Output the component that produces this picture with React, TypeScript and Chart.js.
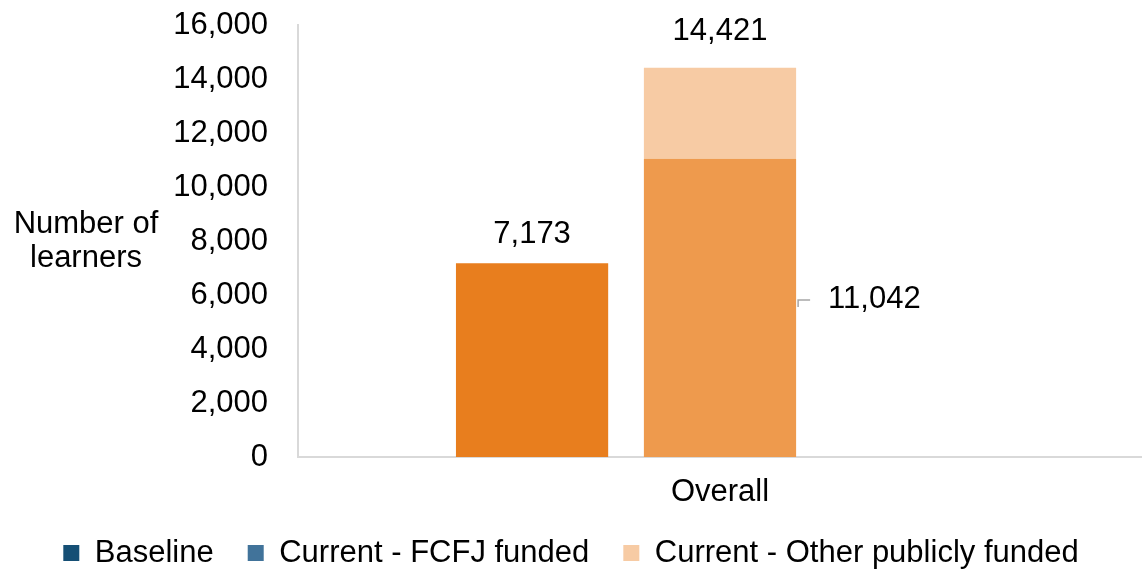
import React, { useEffect, useRef } from "react";
import { Chart, registerables } from "chart.js";

Chart.register(...registerables);

const categories = ["Overall"];
const baseline = [7173];
const fcfjFunded = [11042];
const otherPublic = [3379];
const yTicks = [0, 2000, 4000, 6000, 8000, 10000, 12000, 14000, 16000];
const legendLabels = ["Baseline", "Current - FCFJ funded", "Current - Other publicly funded"];
const legendColors = ["#154F75", "#41739A", "#F7CBA4"];
const yTitle = ["Number of", "learners"];

const FONT = '"Liberation Sans", Arial, sans-serif';
const FS = 31;
const fmt = (v: number) => v.toLocaleString("en-US");

const labelPlugin = {
  id: "customLabels",
  afterDatasetsDraw(chart: any) {
    const ctx = chart.ctx;
    ctx.save();
    ctx.font = `${FS}px ${FONT}`;
    ctx.fillStyle = "#000";
    ctx.textAlign = "center";
    ctx.textBaseline = "middle";
    const b = chart.getDatasetMeta(0).data[0];
    ctx.fillText(fmt(baseline[0]), b.x, b.y - 29);
    const f = chart.getDatasetMeta(1).data[0];
    const o = chart.getDatasetMeta(2).data[0];
    ctx.fillText(fmt(fcfjFunded[0] + otherPublic[0]), o.x, o.y - 36);
    const right = f.x + f.width / 2;
    const ly = (f.y + f.base) / 2 - 8;
    ctx.strokeStyle = "#A6A6A6";
    ctx.lineWidth = 1.5;
    ctx.beginPath();
    ctx.moveTo(right + 2, ly + 7);
    ctx.lineTo(right + 2, ly);
    ctx.lineTo(right + 14, ly);
    ctx.stroke();
    ctx.textAlign = "left";
    ctx.fillText(fmt(fcfjFunded[0]), right + 32, ly);
    ctx.textAlign = "center";
    ctx.fillText(yTitle[0], 86, 224);
    ctx.fillText(yTitle[1], 86, 258);
    ctx.restore();
  },
};

export default function App() {
  const ref = useRef<HTMLCanvasElement>(null);
  useEffect(() => {
    document.body.style.margin = "0";
    const chart = new Chart(ref.current!, {
      type: "bar",
      data: {
        labels: categories,
        datasets: [
          { label: legendLabels[0], data: baseline, backgroundColor: "#E87E1E", stack: "s1" },
          { label: legendLabels[1], data: fcfjFunded, backgroundColor: "#EE9A4D", stack: "s2" },
          { label: legendLabels[2], data: otherPublic, backgroundColor: "#F7CBA4", stack: "s2" },
          { label: "", data: [null], backgroundColor: "rgba(0,0,0,0)", stack: "s3" },
        ],
      },
      options: {
        animation: false,
        responsive: false,
        maintainAspectRatio: false,
        datasets: { bar: { categoryPercentage: 0.668, barPercentage: 0.81 } },
        layout: { padding: { left: 0, right: 0, top: 25, bottom: -7.5 } },
        scales: {
          x: {
            stacked: true,
            grid: { display: false, drawTicks: false },
            border: { display: true, color: "#D9D9D9", width: 2 },
            ticks: { color: "#000", font: { size: FS, family: FONT }, padding: 17 },
            afterFit: (scale: any) => {
              scale.height = 46.5;
            },
          },
          y: {
            stacked: true,
            min: 0,
            max: 16000,
            afterBuildTicks: (scale: any) => {
              scale.ticks = yTicks.map((v) => ({ value: v }));
            },
            afterFit: (scale: any) => {
              scale.width = 298;
              scale.paddingTop = 0;
              scale.paddingBottom = 0;
            },
            grid: { display: false, drawTicks: false },
            border: { display: true, color: "#D9D9D9", width: 2 },
            ticks: {
              color: "#000",
              font: { size: FS, family: FONT },
              padding: 30,
              callback: (v: any) => fmt(Number(v)),
            },
          },
        },
        plugins: {
          tooltip: { enabled: false },
          legend: {
            position: "bottom",
            labels: {
              color: "#000",
              font: { size: FS, family: FONT },
              boxWidth: 16,
              boxHeight: 16,
              padding: 34,
              generateLabels: () =>
                legendLabels.map((t, i) => ({
                  text: t,
                  fillStyle: legendColors[i],
                  strokeStyle: legendColors[i],
                  lineWidth: 0,
                  hidden: false,
                  datasetIndex: i,
                  fontColor: "#000",
                })),
            },
          },
        },
      },
      plugins: [labelPlugin],
    });
    return () => chart.destroy();
  }, []);
  return <canvas ref={ref} width={1142} height={571} style={{ display: "block" }} />;
}
